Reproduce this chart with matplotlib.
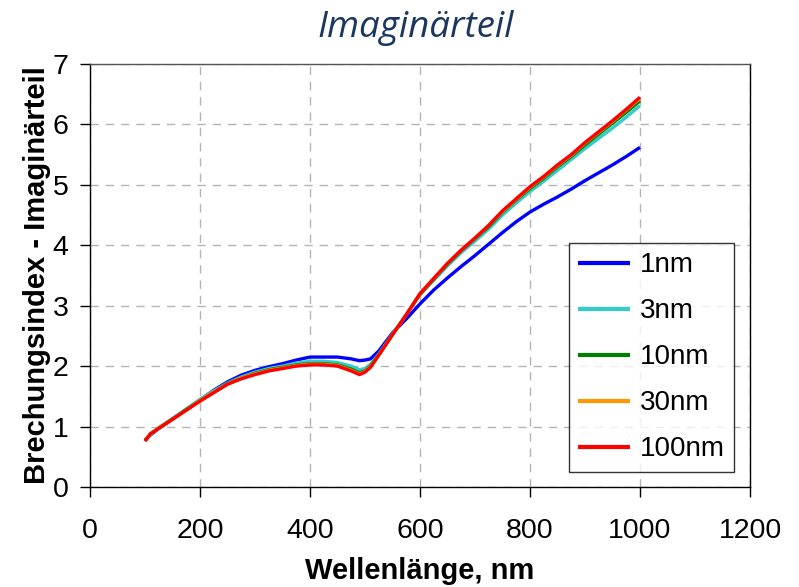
import matplotlib

matplotlib.use("Agg")
import matplotlib.pyplot as plt  # noqa: E402

# wavelength grid (nm) and imaginary part of the refractive index per layer thickness
wavelength = [100, 110, 125, 150, 175, 200, 225, 250, 275, 300, 325, 350, 375, 400,
              425, 450, 475, 490, 500, 510, 525, 550, 575, 600, 625, 650, 675, 700,
              725, 750, 775, 800, 825, 850, 875, 900, 925, 950, 975, 1000]

k_1nm = [0.78, 0.86, 0.97, 1.13, 1.28, 1.44, 1.60, 1.74, 1.85, 1.93, 1.99, 2.04, 2.10, 2.15,
         2.15, 2.15, 2.12, 2.09, 2.10, 2.12, 2.25, 2.55, 2.78, 3.03, 3.26, 3.46, 3.65, 3.83,
         4.02, 4.21, 4.39, 4.55, 4.68, 4.80, 4.93, 5.07, 5.20, 5.33, 5.47, 5.62]
k_3nm = [0.77, 0.87, 0.98, 1.13, 1.29, 1.45, 1.59, 1.72, 1.82, 1.90, 1.96, 2.00, 2.05, 2.08,
         2.08, 2.06, 2.00, 1.94, 1.96, 2.03, 2.20, 2.53, 2.85, 3.18, 3.42, 3.66, 3.88, 4.07,
         4.27, 4.50, 4.70, 4.89, 5.06, 5.24, 5.42, 5.60, 5.77, 5.94, 6.12, 6.31]
k_10nm = [0.76, 0.88, 0.97, 1.12, 1.28, 1.43, 1.57, 1.71, 1.80, 1.88, 1.94, 1.98, 2.02, 2.04,
          2.04, 2.02, 1.95, 1.89, 1.92, 2.00, 2.19, 2.52, 2.85, 3.19, 3.44, 3.69, 3.91, 4.11,
          4.31, 4.55, 4.75, 4.94, 5.11, 5.30, 5.47, 5.66, 5.84, 6.02, 6.20, 6.39]
k_30nm = [0.76, 0.88, 0.97, 1.12, 1.27, 1.43, 1.57, 1.70, 1.80, 1.87, 1.93, 1.97, 2.01, 2.03,
          2.03, 2.01, 1.93, 1.87, 1.91, 1.99, 2.18, 2.52, 2.85, 3.20, 3.45, 3.70, 3.92, 4.12,
          4.33, 4.56, 4.76, 4.96, 5.13, 5.32, 5.49, 5.69, 5.87, 6.05, 6.24, 6.43]
k_100nm = [0.76, 0.88, 0.97, 1.12, 1.27, 1.42, 1.56, 1.70, 1.79, 1.86, 1.92, 1.96, 2.00, 2.02,
           2.02, 2.00, 1.92, 1.86, 1.90, 1.98, 2.18, 2.52, 2.85, 3.20, 3.45, 3.70, 3.92, 4.12,
           4.33, 4.57, 4.77, 4.97, 5.14, 5.33, 5.50, 5.70, 5.88, 6.06, 6.25, 6.45]

labels = ["1nm", "3nm", "10nm", "30nm", "100nm"]
colors = ["#0000FF", "#33CCCC", "#008000", "#FF9900", "#FF0000"]

LABEL_FONT = "Liberation Sans"

fig = plt.figure(figsize=(7.99, 5.87), dpi=100)
ax = fig.add_axes([0.1126, 0.1704, 0.8261, 0.7206])

for series, label, color in zip([k_1nm, k_3nm, k_10nm, k_30nm, k_100nm], labels, colors):
    ax.plot(wavelength, series, color=color, linewidth=2.4, label=label,
            solid_capstyle="butt")

ax.set_xlim(0, 1200)
ax.set_ylim(0, 7)
ax.set_xticks(range(0, 1201, 200))
ax.set_yticks(range(0, 8))

ax.grid(True, color="#b4b4b4", linestyle=(0, (6, 5)), linewidth=1.0)
ax.set_axisbelow(True)

for side in ["left", "bottom", "right", "top"]:
    ax.spines[side].set_linewidth(1.0)
    ax.spines[side].set_color("#000000")
ax.spines["top"].set_color("#555555")

ax.tick_params(direction="out", length=7.5, width=1.0, labelsize=20.5)
ax.tick_params(axis="x", pad=15)
ax.tick_params(axis="y", pad=8)
for lbl in ax.get_xticklabels() + ax.get_yticklabels():
    lbl.set_fontfamily(LABEL_FONT)

ax.set_xlabel("Wellenlänge, nm", fontsize=21, fontweight="bold", family=LABEL_FONT,
              labelpad=9)
ax.set_ylabel("Brechungsindex - Imaginärteil", fontsize=21, fontweight="bold",
              family=LABEL_FONT, labelpad=1)

fig.text(0.52, 0.953, "Imaginärteil", fontsize=26.5, style="italic", family="Open Sans",
         color="#1B365F", ha="center", va="center")

leg = ax.legend(loc="lower right", bbox_to_anchor=(0.976, 0.035),
                prop={"family": LABEL_FONT, "size": 20}, frameon=True, fancybox=False,
                edgecolor="#000000", handlelength=1.85, handletextpad=0.35,
                labelspacing=0.72, borderpad=0.35, borderaxespad=0)
leg.get_frame().set_linewidth(1.0)
for line in leg.get_lines():
    line.set_linewidth(3.0)

fig.savefig("out.png", dpi=100)
